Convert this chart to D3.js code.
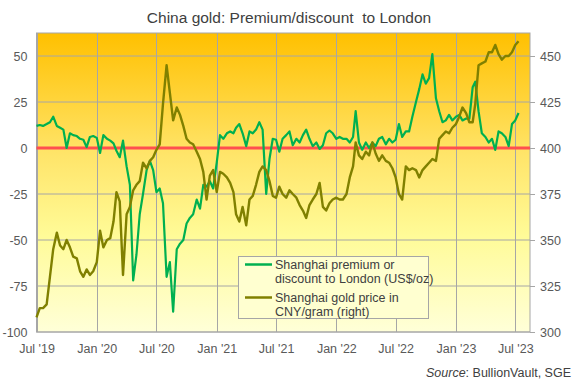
<!DOCTYPE html>
<html><head><meta charset="utf-8">
<script src="https://cdn.jsdelivr.net/npm/d3@7"></script>
<style>
html,body{margin:0;padding:0;background:#fff;}
svg text{font-family:"Liberation Sans",Arial,sans-serif;}
</style></head>
<body>
<svg id="chart" width="575" height="385"></svg>
<script>
// ---- DATA (sampled on the 1st, 11th and 21st of each month from Jul 2019) ----
const startMonth = "2019-07";
const sampleDays = [1, 11, 21];
// Shanghai premium/discount to London, US$/oz (left axis)
const premium = [
  12,12.5,12,13,14,17,12,11,10,0,8,7,6.5,5,4.5,0.5,6,6.5,5.5,-2.7,7,5,4,2.5,-1.5,-5,4,-10,-20,-72,-58,-36,-25,-12,-7,-12,
  -24,-22,-30,-70,-62,-89,-55,-52,-50,-41,-38,-36,-28,-33,-20,-21,-18,-22,-8,7,5,8,9,8,11,13,8,1,9,8,10,14,10,-25,-6,5,
  4.5,-2,5,7,9,1.5,5,3,7,10,5,1,3,-0.5,1.5,8,9.5,8,5,6,5,5,3,6,20,3,-1,3,0,3,1,5,6,2,5,3,
  4.5,13,6,9,9,17,25,32,40,35,38,51,27,20,14,15,18,15,17,18,15,16,16,33,36,20,8,6,3,5,-1,9,8,6,1,13,15,19
];
// Shanghai gold price, CNY/gram (right axis)
const priceCNY = [
  308,313,313,315,330,345,354,347,345,350,346,341,340,333,330,334,331,333,338,355,346,350,351,360,376,371,331,364,368,377,380,382,392,389,393,395,
  399,402,424,445,430,415,422,418,412,405,403,402,398,394,387,372,385,388,376,387,386,384,381,376,364,360,368,358,372,374,380,387,390,388,382,374,
  373,379,375,373,377,375,373,369,366,362,369,372,375,381,368,366,370,372,373,372,372,375,384,390,403,396,394,398,396,403,397,393,396,393,392,389,
  384,375,372,390,388,389,388,384,388,390,392,394,393,405,407,409,408,411,413,417,422,419,414,414,424,445,446,447,452,452,456,451,448,450,450,452,456,458
];
const leftTicks = [-100, -75, -50, -25, 0, 25, 50];
const rightTicks = [300, 325, 350, 375, 400, 425, 450];
const xTickDates = ["2019-07-01","2020-01-01","2020-07-01","2021-01-01","2021-07-01","2022-01-01","2022-07-01","2023-01-01","2023-07-01"];
const titleText = "China gold: Premium/discount\u00a0 to London";
const legendLabels = [["Shanghai premium or","discount to London (US$/oz)"],["Shanghai gold price in","CNY/gram (right)"]];

// ---- build dates ----
const parse = d3.timeParse("%Y-%m-%d");
const m0 = d3.timeParse("%Y-%m")(startMonth);
const dates = premium.map((_, i) => {
  const m = d3.timeMonth.offset(m0, Math.floor(i / 3));
  return new Date(m.getFullYear(), m.getMonth(), sampleDays[i % 3]);
});

// ---- layout ----
const L = 36.5, R = 530, T = 33, B = 332;
const svg = d3.select("#chart");

const x = d3.scaleTime().domain([parse("2019-07-01"), parse("2023-08-15")]).range([L, R]);
const yL = d3.scaleLinear().domain([-100, 62.5]).range([B, T]);
const yR = d3.scaleLinear().domain([300, 462.5]).range([B, T]);

// background gradient
const defs = svg.append("defs");
const grad = defs.append("linearGradient").attr("id", "bg").attr("x1", 0).attr("y1", 0).attr("x2", 0).attr("y2", 1);
[["0%","#FFC000"],["40%","#FFE468"],["68%","#FFFB98"],["100%","#FFFFD8"]].forEach(s =>
  grad.append("stop").attr("offset", s[0]).attr("stop-color", s[1]));
svg.append("rect").attr("x", L).attr("y", T).attr("width", R - L).attr("height", B - T).attr("fill", "url(#bg)");

// gridlines
const gridColor = "#A6A6A6";
svg.append("g").selectAll("line").data(leftTicks).join("line")
  .attr("x1", L).attr("x2", R).attr("y1", d => yL(d)).attr("y2", d => yL(d))
  .attr("stroke", gridColor).attr("stroke-width", 1);
svg.append("g").selectAll("line").data(xTickDates.map(parse)).join("line")
  .attr("x1", d => Math.round(x(d)) + 0.5).attr("x2", d => Math.round(x(d)) + 0.5).attr("y1", T).attr("y2", B)
  .attr("stroke", gridColor).attr("stroke-width", 1);

// plot border
svg.append("rect").attr("x", L).attr("y", T).attr("width", R - L).attr("height", B - T)
  .attr("fill", "none").attr("stroke", gridColor).attr("stroke-width", 1);

// zero line
svg.append("line").attr("x1", L).attr("x2", R).attr("y1", yL(0)).attr("y2", yL(0))
  .attr("stroke", "#FF4F4F").attr("stroke-width", 3);

// series
const linePrem = d3.line().x((d, i) => x(dates[i])).y(d => yL(d));
const linePrice = d3.line().x((d, i) => x(dates[i])).y(d => yR(d));
svg.append("path").datum(premium).attr("d", linePrem).attr("fill", "none")
  .attr("stroke", "#00B050").attr("stroke-width", 2.2).attr("stroke-linejoin", "round");
svg.append("path").datum(priceCNY).attr("d", linePrice).attr("fill", "none")
  .attr("stroke", "#808000").attr("stroke-width", 2.4).attr("stroke-linejoin", "round");

// axes
const textColor = "#595959";
const axL = svg.append("g").attr("transform", `translate(${L},0)`)
  .call(d3.axisLeft(yL).tickValues(leftTicks).tickSize(0).tickPadding(9).tickFormat(d => String(d)));
const axR = svg.append("g").attr("transform", `translate(${R},0)`)
  .call(d3.axisRight(yR).tickValues(rightTicks).tickSize(5).tickPadding(5).tickFormat(d => String(d)));
const axX = svg.append("g").attr("transform", `translate(0,${B})`)
  .call(d3.axisBottom(x).tickValues(xTickDates.map(parse)).tickSize(0).tickPadding(12).tickFormat(d3.timeFormat("%b '%y")));
[axL, axR, axX].forEach(g => {
  g.select(".domain").remove();
  g.selectAll("text").attr("fill", textColor).style("font-size", "12.5px");
  g.selectAll(".tick line").attr("stroke", gridColor);
});

// title
svg.append("text").attr("x", 289).attr("y", 23).attr("text-anchor", "middle")
  .attr("fill", "#404040").style("font-size", "15.5px").text(titleText);

// source
const src = svg.append("text").attr("x", 571).attr("y", 377).attr("text-anchor", "end")
  .attr("fill", "#404040").style("font-size", "12.5px");
src.append("tspan").style("font-style", "italic").text("Source");
src.append("tspan").text(": BullionVault, SGE");

// legend
const lg = svg.append("g");
lg.append("rect").attr("x", 238.5).attr("y", 256.5).attr("width", 190).attr("height", 62)
  .attr("fill", "#FFFFD0").attr("stroke", gridColor);
const lgColors = ["#00B050", "#808000"];
legendLabels.forEach((lab, i) => {
  const y0 = 264.5 + i * 33;
  lg.append("line").attr("x1", 245).attr("x2", 272).attr("y1", y0).attr("y2", y0)
    .attr("stroke", lgColors[i]).attr("stroke-width", 2.5);
  lab.forEach((t, k) => {
    lg.append("text").attr("x", 275).attr("y", y0 + 4.5 + k * 14)
      .attr("fill", "#404040").style("font-size", "12.5px").text(t);
  });
});
</script>
</body></html>
